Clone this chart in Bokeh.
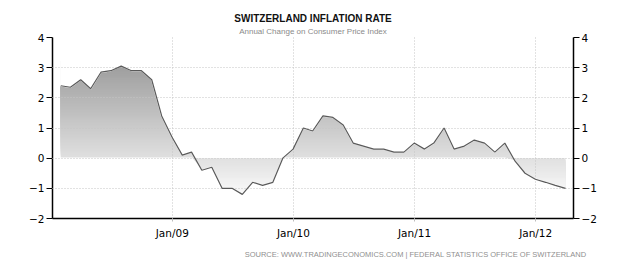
import numpy as np
import pandas as pd
from bokeh.plotting import figure
from bokeh.models import (LinearAxis, FixedTicker, DatetimeTickFormatter,
                          Range1d, Title)
from bokeh.embed import file_html
from bokeh.resources import INLINE

# ---- data (annual CPI change, %, monthly) ----
first_month = "2008-01-31"
cpi_2008 = [2.4, 2.35, 2.6, 2.3, 2.85, 2.9, 3.05, 2.9, 2.9, 2.6, 1.4, 0.7]
cpi_2009 = [0.1, 0.2, -0.4, -0.3, -1.0, -1.0, -1.2, -0.8, -0.9, -0.8, 0.0, 0.3]
cpi_2010 = [1.0, 0.9, 1.4, 1.35, 1.1, 0.5, 0.4, 0.3, 0.3, 0.2, 0.2, 0.5]
cpi_2011 = [0.3, 0.5, 1.0, 0.3, 0.4, 0.6, 0.5, 0.2, 0.5, -0.1, -0.5, -0.7]
cpi_2012 = [-0.8, -0.9, -1.0]
year_ticks = ["2009-01-01", "2010-01-01", "2011-01-01", "2012-01-01"]
y_ticks = [-2, -1, 0, 1, 2, 3, 4]

values = np.array(cpi_2008 + cpi_2009 + cpi_2010 + cpi_2011 + cpi_2012)
dates = pd.date_range(first_month, periods=len(values), freq=pd.offsets.MonthEnd())

x_start = pd.Timestamp("2008-01-06")
x_end = pd.Timestamp("2012-04-24")

p = figure(width=625, height=268, x_axis_type="datetime",
           x_range=Range1d(start=x_start, end=x_end),
           y_range=Range1d(start=-2, end=4),
           output_backend="svg", toolbar_location=None,
           min_border_left=52, min_border_right=52,
           min_border_top=37, min_border_bottom=50)
p.outline_line_color = None
p.background_fill_color = "white"
p.border_fill_color = "white"


def gray(y):
    g = int(round(224 - 21.5 * y))
    g = max(0, min(255, g))
    return "#%02x%02x%02x" % (g, g, g)


# ---- gradient fill (bands) ----
step = 0.05
pos_top = 3.2
pos_bottoms = np.arange(0, pos_top, step)
p.quad(left=[dates[0]] * len(pos_bottoms), right=[dates[-1]] * len(pos_bottoms),
       bottom=pos_bottoms, top=[pos_top] * len(pos_bottoms),
       fill_color=[gray(b + step / 2) for b in pos_bottoms], line_color=None)
# mask above the line
mask_top = pos_top + 0.1
p.patch(x=list(dates) + [dates[-1], dates[0]],
        y=list(values) + [mask_top, mask_top],
        fill_color="white", line_color="white", line_width=1.5)

neg_bottom = -1.3
neg_tops = np.arange(0, neg_bottom, -step)
p.quad(left=[dates[0]] * len(neg_tops), right=[dates[-1]] * len(neg_tops),
       bottom=[neg_bottom] * len(neg_tops), top=neg_tops,
       fill_color=[gray(t - step / 2) for t in neg_tops], line_color=None)
# mask below the line
mask_bottom = neg_bottom - 0.1
p.patch(x=list(dates) + [dates[-1], dates[0]],
        y=list(np.minimum(values, 0)) + [mask_bottom, mask_bottom],
        fill_color="white", line_color="white", line_width=1.5)

line = p.line(dates, values, line_color="#5a5a5a", line_width=1.2)
line.level = "overlay"

# ---- grid ----
tick_ms = [pd.Timestamp(t).value / 1e6 for t in year_ticks]
p.xgrid.ticker = FixedTicker(ticks=tick_ms)
p.ygrid.ticker = FixedTicker(ticks=y_ticks)
for g in (p.xgrid[0], p.ygrid[0]):
    g.grid_line_color = "#c4c4c4"
    g.grid_line_dash = "1 2"
    g.grid_line_width = 1
    g.level = "annotation"

# ---- axes ----
label_font = "DejaVu Sans"
xa = p.xaxis[0]
xa.ticker = FixedTicker(ticks=tick_ms)
fmt = "%b/%y"
xa.formatter = DatetimeTickFormatter(years=fmt, months=fmt, days=fmt,
                                     hours=fmt, minutes=fmt, seconds=fmt)
xa.axis_line_color = "black"
xa.axis_line_width = 1.5
xa.major_tick_out = 3
xa.major_tick_in = 0
xa.major_tick_line_color = "#bbbbbb"
xa.minor_tick_line_color = None
xa.major_label_standoff = 5
xa.major_label_text_font = label_font
xa.major_label_text_font_size = "10.5px"
xa.major_label_text_color = "black"

ya = p.yaxis[0]
ra = LinearAxis()
p.add_layout(ra, "right")
for a in (ya, ra):
    a.ticker = FixedTicker(ticks=y_ticks)
    a.axis_line_color = "black"
    a.axis_line_width = 1.5
    a.major_tick_out = 6
    a.major_tick_in = 0
    a.major_tick_line_color = "black"
    a.minor_tick_line_color = None
    a.major_label_standoff = 2
    a.major_label_text_font = label_font
    a.major_label_text_font_size = "10.5px"
    a.major_label_text_color = "black"

# ---- titles ----
p.title.text = "SWITZERLAND INFLATION RATE"
p.title.align = "center"
p.title.text_font = "Liberation Sans"
p.title.text_font_size = "10px"
p.title.text_font_style = "bold"
p.title.text_color = "#111111"
p.title.standoff = 0

p.add_layout(Title(text="Annual Change on Consumer Price Index", align="center",
                   text_font="Liberation Sans", text_font_size="8px",
                   text_font_style="normal", text_color="#8a8a8a",
                   standoff=3), "above")

p.add_layout(Title(text="SOURCE: WWW.TRADINGECONOMICS.COM  |  FEDERAL STATISTICS OFFICE OF SWITZERLAND",
                   align="right", offset=-17,
                   text_font="Liberation Sans", text_font_size="7.5px",
                   text_font_style="normal", text_color="#8f8f8f",
                   standoff=12), "below")

open("out.html", "w").write(file_html(p, INLINE))
